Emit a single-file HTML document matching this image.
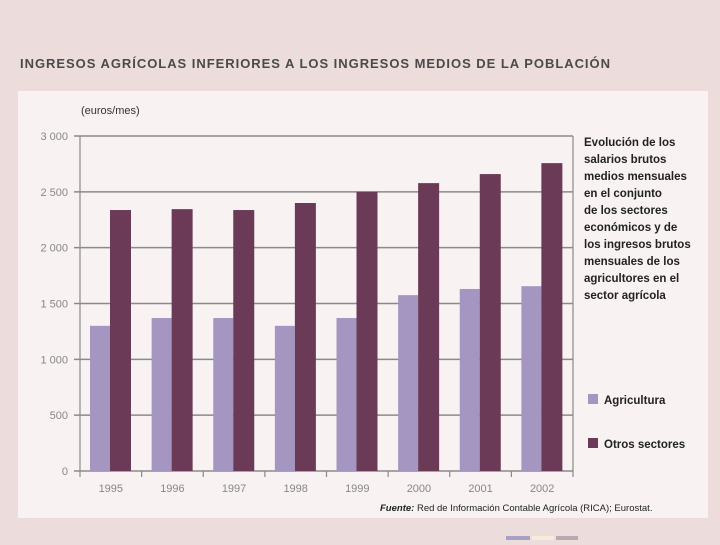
<!DOCTYPE html>
<html><head><meta charset="utf-8"><style>
body{margin:0;width:720px;height:540px;background:#ecdcdc;overflow:hidden;font-family:"Liberation Sans",sans-serif;}
</style></head><body>
<svg width="720" height="540" xmlns="http://www.w3.org/2000/svg" id="chart">
<rect x="0" y="0" width="720" height="540" fill="#ecdcdc"/>
<text x="20" y="68" font-size="13" font-weight="bold" fill="#4a4a4a" textLength="590" lengthAdjust="spacing">INGRESOS AGRÍCOLAS INFERIORES A LOS INGRESOS MEDIOS DE LA POBLACIÓN</text>
<rect x="18" y="91" width="690" height="427" fill="#f8f2f2"/>
<text x="81" y="114" font-size="11" fill="#333">(euros/mes)</text>
<g id="grid"></g><g id="bars"></g><g id="axes"></g>
<g font-size="11.5" font-weight="bold" fill="#222">
<text x="584" y="146">Evolución de los</text><text x="584" y="163">salarios brutos</text>
<text x="584" y="180">medios mensuales</text><text x="584" y="197">en el conjunto</text>
<text x="584" y="214">de los sectores</text><text x="584" y="231">económicos y de</text>
<text x="584" y="248">los ingresos brutos</text><text x="584" y="265">mensuales de los</text>
<text x="584" y="282">agricultores en el</text><text x="584" y="299">sector agrícola</text>
</g>
<rect x="588" y="394" width="10" height="10" fill="#a496c0"/>
<text x="604" y="404" font-size="11.5" font-weight="bold" fill="#222">Agricultura</text>
<rect x="588" y="438" width="10" height="10" fill="#6a3a56"/>
<text x="604" y="448" font-size="11.5" font-weight="bold" fill="#222">Otros sectores</text>
<text x="380" y="511" font-size="9.5" fill="#222"><tspan font-style="italic" font-weight="bold">Fuente:</tspan> Red de Información Contable Agrícola (RICA); Eurostat.</text>
<rect x="506" y="536" width="24" height="4" fill="#a9a0c8"/>
<rect x="532" y="536" width="22" height="4" fill="#f4ecd8"/>
<rect x="556" y="536" width="22" height="4" fill="#bba8b0"/>
</svg>
<script>
const years=["1995","1996","1997","1998","1999","2000","2001","2002"];
const agricultura=[1300,1370,1370,1300,1370,1575,1630,1655];
const otros=[2337,2345,2337,2400,2500,2578,2659,2757];
const yTicks=[0,500,1000,1500,2000,2500,3000];
const yLabels=["0","500","1 000","1 500","2 000","2 500","3 000"];
const NS="http://www.w3.org/2000/svg";
const x0=80,x1=573,y0=471,y1=136,ymax=3000;
const yS=v=>y0-(v/ymax)*(y0-y1);
const gw=(x1-x0)/years.length;
function mk(t,a,p){const e=document.createElementNS(NS,t);for(const k in a)e.setAttribute(k,a[k]);p.appendChild(e);return e;}
const grid=document.getElementById('grid'),bars=document.getElementById('bars'),axes=document.getElementById('axes');
yTicks.forEach((v,i)=>{
 const l=mk('line',{x1:x0-6,x2:x1,y1:yS(v),y2:yS(v),stroke:'#8a8a8a','stroke-width':1.5},grid);
 
 
 const t=mk('text',{x:68,y:yS(v)+4,'font-size':11,fill:'#888','text-anchor':'end'},axes);
 t.textContent=yLabels[i];
 
 
});
years.forEach((yr,i)=>{
 const gx=x0+i*gw;
 const a=mk('rect',{x:gx+10,y:yS(agricultura[i]),width:20,height:y0-yS(agricultura[i]),fill:'#a496c0'},bars);
 
 
 const o=mk('rect',{x:gx+30,y:yS(otros[i]),width:21,height:y0-yS(otros[i]),fill:'#6a3a56'},bars);
 
 
 const t=mk('text',{x:gx+gw/2,y:492,'font-size':11,fill:'#888','text-anchor':'middle'},axes);
 t.textContent=yr;
 
 
});
for(let i=0;i<=years.length;i++){
 const gx=x0+i*gw;
 const tk=mk('line',{x1:gx,x2:gx,y1:y0,y2:y0+6,stroke:'#8a8a8a','stroke-width':1.2},axes);
 
 
}
const la=mk('line',{x1:x0,x2:x0,y1:y1,y2:y0,stroke:'#8a8a8a','stroke-width':1.2},axes);


const ra=mk('line',{x1:x1,x2:x1,y1:y1,y2:y0,stroke:'#8a8a8a','stroke-width':1.2},axes);


</script>
</body></html>
